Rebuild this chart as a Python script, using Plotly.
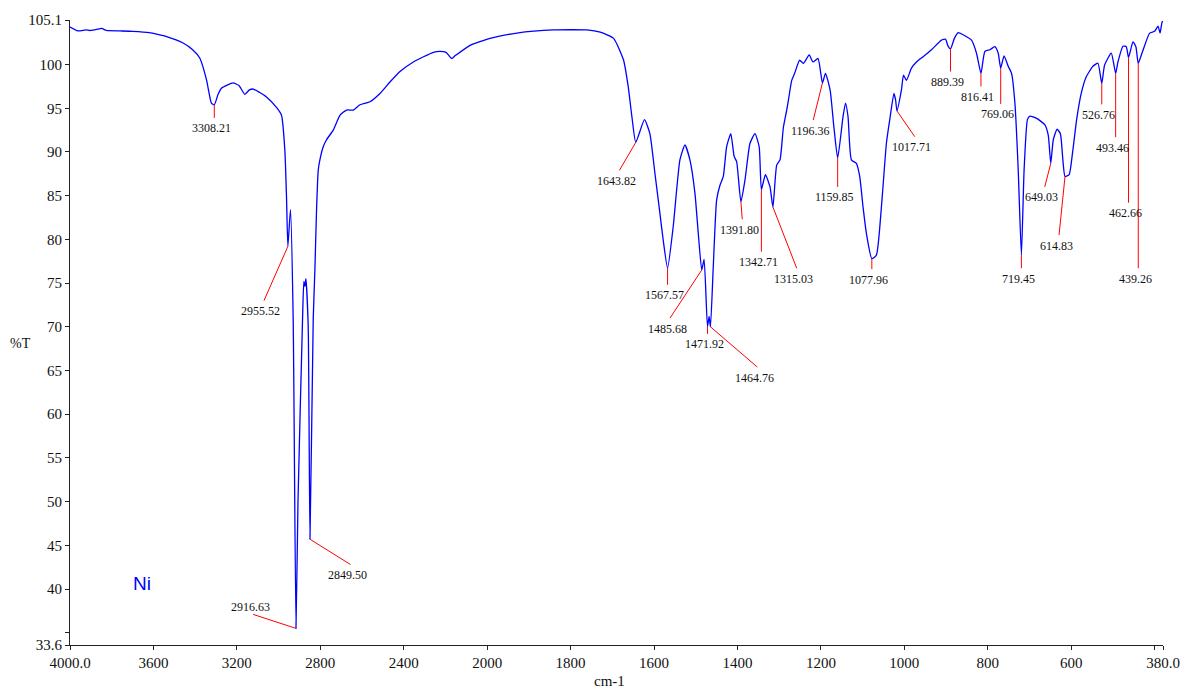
import plotly.graph_objects as go

# FT-IR spectrum of the Ni sample: wavenumber (cm-1) vs transmittance (%T)
wavenumber = [
    4000, 3962, 3922, 3906, 3860, 3848, 3826, 3760, 3700, 3620, 3580, 3537, 3460, 3412,
    3378, 3345, 3322, 3308.21, 3290, 3274, 3218, 3190, 3162, 3140, 3122, 3090, 3058, 3010,
    2986, 2970, 2962, 2955.52, 2943, 2930, 2916.63, 2907, 2885, 2879, 2874, 2869, 2858,
    2849.50, 2834, 2826, 2818, 2810, 2802, 2786, 2770, 2738, 2706, 2674, 2642, 2610, 2562,
    2514, 2466, 2418, 2354, 2258, 2226, 2197, 2170, 2154, 2082, 1993, 1929, 1841, 1761,
    1729, 1697, 1673, 1662, 1653, 1643.82, 1623, 1610, 1598, 1586, 1578, 1567.57, 1554,
    1538, 1526, 1514, 1502, 1494, 1485.68, 1480, 1471.92, 1468, 1464.76, 1458, 1450, 1442,
    1434, 1426, 1416, 1408, 1402, 1391.80, 1382, 1370, 1358, 1348, 1342.71, 1333, 1322,
    1315.03, 1306, 1298, 1290, 1282, 1278, 1270, 1263, 1251, 1242, 1228, 1219, 1207,
    1196.36, 1189, 1178, 1169, 1159.85, 1147, 1141, 1135, 1127, 1115, 1107, 1099, 1091,
    1077.96, 1067, 1055, 1043, 1035, 1025, 1021, 1017.71, 1007, 1002, 995, 983, 971, 955,
    935, 911, 901, 896, 889.39, 880, 871, 855, 839, 827, 816.41, 807, 795, 783, 775, 769.06,
    761, 751, 743, 735, 727, 719.45, 713, 705, 699, 683, 663, 655, 649.03, 643, 634, 626,
    620, 614.83, 605, 597, 587, 576, 564, 548, 536, 526.76, 520, 504, 493.46, 488, 476, 468,
    462.66, 452, 445, 439.26, 429, 412, 400, 392, 387, 382, 380,
]
transmittance = [
    104.3, 103.85, 103.97, 103.9, 104.08, 104.15, 103.9, 103.85, 103.8, 103.65, 103.45, 103.2, 102.5, 101.7,
    100.75, 98.2, 95.6, 95.4, 96.6, 97.3, 97.9, 97.6, 96.6, 97.1, 97.2, 96.8, 96.3, 95.1,
    94.2, 90.2, 84.85, 79.2, 83.4, 70.8, 35.5, 50.0, 71.0, 75.2, 74.6, 75.5, 70.0,
    45.7, 70.8, 76.5, 83.4, 87.9, 89.1, 90.6, 91.4, 92.5, 94.2, 94.8, 94.8, 95.4, 95.75,
    96.7, 98.0, 99.2, 100.3, 101.4, 101.5, 101.4, 100.7, 101.0, 102.2, 103.0, 103.6, 103.96, 103.96,
    103.7, 103.0, 100.5, 97.5, 94.0, 91.1, 93.7, 92.1, 87.6, 83.0, 79.9, 76.7, 81.5,
    89.1, 90.8, 89.1, 85.3, 80.7, 76.5, 77.7, 70.0, 71.2, 70.0, 76.9, 84.5, 86.2,
    87.2, 90.6, 92.1, 89.5, 88.9, 84.3, 86.8, 91.0, 92.1, 90.6, 85.7, 87.4, 86.0,
    83.7, 88.5, 89.1, 92.8, 94.8, 95.9, 98.2, 99.0, 100.5, 100.15, 101.1, 100.3, 100.7,
    97.9, 99.0, 97.1, 92.9, 89.3, 94.05, 95.6, 94.05, 89.1, 88.7, 87.2, 83.7, 80.7,
    77.8, 78.2, 83.7, 91.0, 93.7, 96.7, 95.95, 94.7, 97.1, 98.8, 98.2, 99.6, 100.3, 100.9,
    101.7, 102.8, 102.9, 102.2, 101.8, 103.0, 103.65, 103.3, 102.8, 101.3, 99.0, 101.5, 101.7, 102.05, 101.3, 99.6,
    101.0, 99.8, 99.0, 95.6, 87.9, 78.2, 87.9, 93.7, 94.1, 93.85, 93.1, 91.9, 88.7, 91.4, 92.6, 92.1,
    89.1, 87.2, 87.4, 89.85, 93.7, 96.7, 98.6, 99.8, 100.15, 97.85, 99.95, 101.3, 99.0, 100.3, 102.1, 102.05,
    100.8, 102.6, 102.05, 100.15, 101.5, 103.6, 103.8, 104.4, 103.6, 104.9, 104.9,
]

# labelled bands and the far end of each leader line
peak_labels = [
    "3308.21", "2955.52", "2916.63", "2849.50", "1643.82", "1567.57", "1485.68", "1471.92",
    "1464.76", "1391.80", "1342.71", "1315.03", "1196.36", "1159.85", "1077.96", "1017.71",
    "889.39", "816.41", "769.06", "719.45", "649.03", "614.83", "526.76", "493.46",
    "462.66", "439.26",
]
leader_end_wavenumber = [
    3308.21, 3070, 3122, 2655, 1683, 1567.57, 1561.7, 1471.92,
    1352.6, 1388.5, 1342.71, 1258, 1218.4, 1159.85, 1077.96, 975,
    889.39, 816.41, 769.06, 719.45, 663.5, 629.2, 526.76, 493.46,
    462.66, 439.26,
]
leader_end_transmittance = [
    93.9, 73.0, 37.1, 42.8, 87.9, 74.8, 71.0, 69.2,
    65.4, 82.3, 78.6, 76.7, 93.66, 86.0, 76.6, 91.75,
    99.2, 97.5, 95.5, 76.7, 86.0, 80.5, 95.45, 91.7,
    84.2, 76.7,
]
labels_above_leader = {"2916.63"}

x_tick_wavenumber = [4000, 3600, 3200, 2800, 2400, 2000, 1800, 1600, 1400, 1200, 1000, 800, 600, 400, 380]
x_tick_text = ["4000.0", "3600", "3200", "2800", "2400", "2000", "1800", "1600", "1400",
               "1200", "1000", "800", "600", "", "380.0"]
y_tick_values = [33.6, 35, 40, 45, 50, 55, 60, 65, 70, 75, 80, 85, 90, 95, 100, 105.1]
y_tick_text = ["33.6", "", "40", "45", "50", "55", "60", "65", "70", "75", "80", "85",
               "90", "95", "100", "105.1"]


def axis_pos(w):
    """Abscissa with the usual 2x expansion of the scale below 2000 cm-1."""
    return 4000 - w if w >= 2000 else 2000 + 2 * (2000 - w)


SERIF = "Liberation Serif, Times New Roman, serif"

fig = go.Figure()
fig.add_trace(go.Scatter(
    x=[axis_pos(w) for w in wavenumber], y=transmittance,
    mode="lines", line=dict(color="#0000ff", width=1.3, shape="spline", smoothing=0.5),
    hoverinfo="skip", showlegend=False,
))

# red leader lines from each band to its label
lx, ly = [], []
for lab, we, te in zip(peak_labels, leader_end_wavenumber, leader_end_transmittance):
    wp = float(lab)
    tp = transmittance[wavenumber.index(wp)]
    lx += [axis_pos(wp), axis_pos(we), None]
    ly += [tp, te, None]
fig.add_trace(go.Scatter(
    x=lx, y=ly, mode="lines", line=dict(color="#ff0000", width=1),
    hoverinfo="skip", showlegend=False,
))

annotations = []
for lab, we, te in zip(peak_labels, leader_end_wavenumber, leader_end_transmittance):
    above = lab in labels_above_leader
    annotations.append(dict(
        x=axis_pos(we), y=te, xref="x", yref="y", text=lab, showarrow=False,
        xanchor="center", yanchor="middle", xshift=-3, yshift=7 if above else -10.5,
        font=dict(family=SERIF, size=12, color="#111111"),
    ))
annotations.append(dict(
    x=axis_pos(3657), y=40.6, xref="x", yref="y", text="Ni", showarrow=False,
    xanchor="center", yanchor="middle",
    font=dict(family="Liberation Sans, Arial, sans-serif", size=19, color="#0000ff"),
))
annotations.append(dict(
    x=-0.045, y=0.483, xref="paper", yref="paper", text="%T", showarrow=False,
    xanchor="center", yanchor="middle",
    font=dict(family=SERIF, size=14, color="#111111"),
))
annotations.append(dict(
    x=0.494, y=-0.058, xref="paper", yref="paper", text="cm-1", showarrow=False,
    xanchor="center", yanchor="middle",
    font=dict(family=SERIF, size=15, color="#111111"),
))

fig.update_layout(
    width=1192, height=690,
    margin=dict(l=70, r=29, t=20, b=45),
    paper_bgcolor="white", plot_bgcolor="white",
    annotations=annotations,
    xaxis=dict(
        range=[0, axis_pos(380)],
        tickvals=[axis_pos(w) for w in x_tick_wavenumber], ticktext=x_tick_text,
        showgrid=False, zeroline=False, showline=True, linecolor="#222222", linewidth=1,
        ticks="outside", ticklen=4, tickcolor="#222222",
        tickfont=dict(family=SERIF, size=15, color="#111111"),
    ),
    yaxis=dict(
        range=[33.6, 105.1],
        tickvals=y_tick_values, ticktext=y_tick_text,
        showgrid=False, zeroline=False, showline=True, linecolor="#222222", linewidth=1,
        ticks="outside", ticklen=4, tickcolor="#222222",
        tickfont=dict(family=SERIF, size=15, color="#111111"),
    ),
)

fig.write_html("out.html")
